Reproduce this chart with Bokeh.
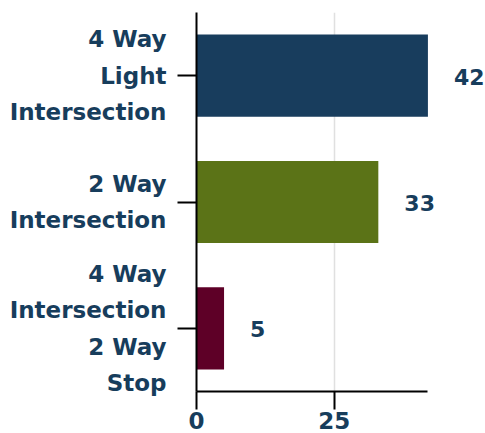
from bokeh.plotting import figure
from bokeh.models import FactorRange, Range1d, FixedTicker, ColumnDataSource
from bokeh.core.properties import value
from bokeh.embed import file_html
from bokeh.resources import INLINE

categories = ["4 Way\nLight\nIntersection", "2 Way\nIntersection", "4 Way\nIntersection\n2 Way\nStop"]
counts = [42, 33, 5]
colors = ["#183d5d", "#5b7317", "#5e0027"]
x_ticks = [0, 25]

TXT = "#173d5c"
FONT = "DejaVu Sans"

src = ColumnDataSource(dict(cat=categories, n=counts, color=colors, lab=[str(c) for c in counts]))

p = figure(width=485, height=433,
           y_range=FactorRange(factors=list(reversed(categories))),
           x_range=Range1d(0, 52.45),
           output_backend="svg", toolbar_location=None,
           min_border_left=196, min_border_top=12, min_border_right=0, min_border_bottom=42)

p.hbar(y="cat", right="n", left=0, height=0.65, color="color", line_color=None, source=src)
p.text(x="n", y="cat", text="lab", x_offset=26, y_offset=1, text_align="left", text_baseline="middle",
       text_font=value(FONT), text_font_style="bold", text_font_size="22px", text_color=TXT, source=src)

p.outline_line_color = None
p.ygrid.grid_line_color = None
p.xgrid.ticker = FixedTicker(ticks=[25])
p.xgrid.grid_line_color = "#e0e0e0"
p.xgrid.grid_line_width = 1.5

p.xaxis.ticker = FixedTicker(ticks=x_ticks)
p.xaxis.bounds = (0, 42)
p.xaxis.minor_tick_line_color = None
p.xaxis.major_tick_in = 0
p.xaxis.major_tick_out = 18
p.xaxis.major_label_standoff = 2

p.yaxis.major_tick_in = 0
p.yaxis.major_tick_out = 19
p.yaxis.major_label_standoff = 11
p.yaxis.major_label_text_line_height = 1.4

for ax in (p.xaxis, p.yaxis):
    ax.axis_line_color = "black"
    ax.axis_line_width = 2
    ax.major_tick_line_color = "black"
    ax.major_tick_line_width = 2
    ax.major_label_text_font = FONT
    ax.major_label_text_font_style = "bold"
    ax.major_label_text_font_size = "23px"
    ax.major_label_text_color = TXT

open("out.html", "w").write(file_html(p, INLINE))
